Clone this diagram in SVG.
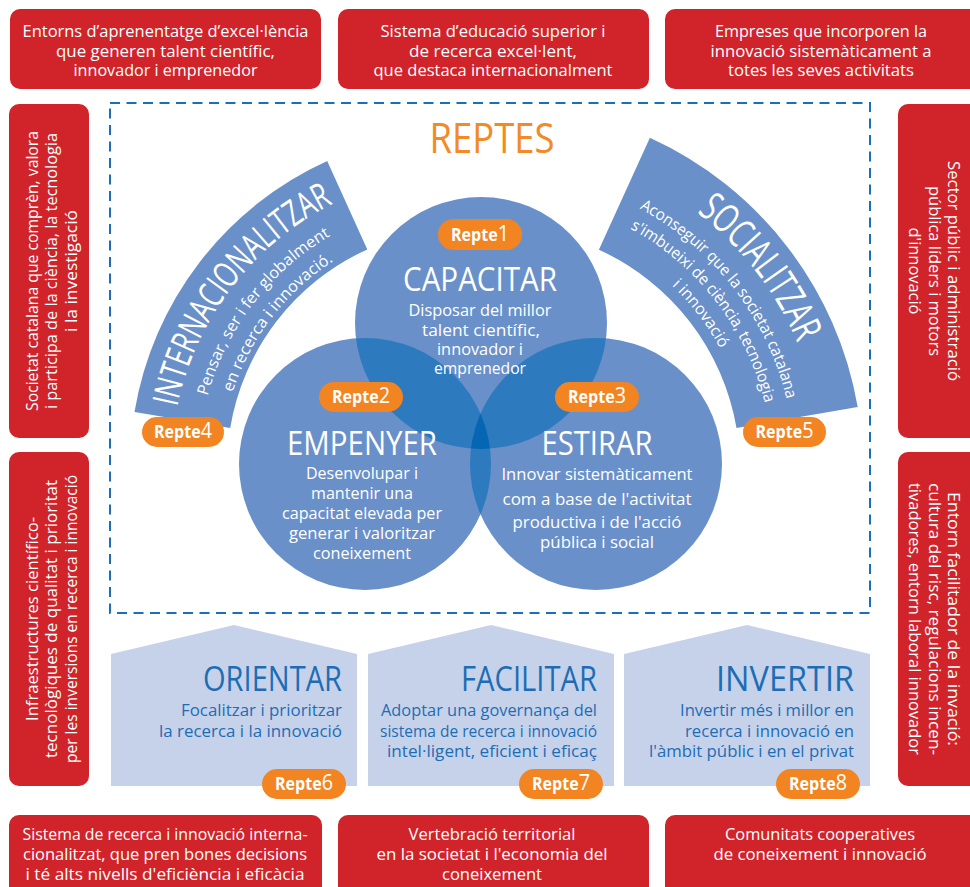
<svg xmlns="http://www.w3.org/2000/svg" width="970" height="887" viewBox="0 0 970 887">
<defs>
<style>
.red{fill:#d1232a}
.wt{fill:#fff;font-family:"Open Sans","Liberation Sans",sans-serif;font-size:16.5px}
.sd{fill:#fff;font-family:"Open Sans","Liberation Sans",sans-serif;font-size:17px}
.ct{fill:#fff;font-family:"Open Sans","Liberation Sans",sans-serif;font-size:32px}
.hs{fill:#c6d2ea}
.ht{fill:#1d6db5;font-family:"Open Sans","Liberation Sans",sans-serif;font-size:34px}
.hb{fill:#1d6db5;font-family:"Open Sans","Liberation Sans",sans-serif;font-size:16.5px}
.band{fill:#6a90c9}
.at{fill:#fff;font-family:"Open Sans","Liberation Sans",sans-serif;font-size:36px}
.as{fill:#fff;font-family:"Open Sans","Liberation Sans",sans-serif;font-size:16px}
.badge{fill:#f28522}
.bt{fill:#fff;font-family:"Open Sans","Liberation Sans",sans-serif;font-size:17px;font-weight:700}
.bn{font-size:21px;font-weight:400}
.c1{fill:#6a90c9}
.c2{fill:#2e7abf}
.c3{fill:#0567b3}
</style>
<clipPath id="k1"><circle cx="481" cy="323" r="126"/></clipPath>
<clipPath id="k2"><circle cx="365" cy="464" r="126"/></clipPath>
<path id="pL0" d="M 175.0 418.8 A 295 295 0 0 1 344.1 198.3"/>
<path id="pL1" d="M 201.6 423.2 A 268 268 0 0 1 355.3 222.9"/>
<path id="pL2" d="M 224.3 427.0 A 245 245 0 0 1 364.8 243.9"/>
<path id="pR0" d="M 633.4 174.2 A 324 324 0 0 1 818.3 413.9"/>
<path id="pR1" d="M 621.7 199.6 A 296 296 0 0 1 790.7 418.6"/>
<path id="pR2" d="M 612.6 219.7 A 274 274 0 0 1 769.0 422.4"/>
<path id="pR3" d="M 603.5 239.7 A 252 252 0 0 1 747.3 426.1"/>
</defs>
<rect width="970" height="887" fill="#fff"/>

<g id="top-box-1">
<rect class="red" x="10" y="9" width="311" height="80" rx="10"/>
<text class="wt" x="165.5" y="37" text-anchor="middle" textLength="286" lengthAdjust="spacingAndGlyphs">Entorns d’aprenentatge d’excel·lència</text>
<text class="wt" x="165.5" y="56.5" text-anchor="middle" textLength="219" lengthAdjust="spacingAndGlyphs">que generen talent científic,</text>
<text class="wt" x="165.5" y="76" text-anchor="middle" textLength="184" lengthAdjust="spacingAndGlyphs">innovador i emprenedor</text>
</g>
<g id="top-box-2">
<rect class="red" x="338" y="9" width="311" height="80" rx="10"/>
<text class="wt" x="493" y="37" text-anchor="middle" textLength="225" lengthAdjust="spacingAndGlyphs">Sistema d’educació superior i</text>
<text class="wt" x="493" y="56.5" text-anchor="middle" textLength="168" lengthAdjust="spacingAndGlyphs">de recerca excel·lent,</text>
<text class="wt" x="493" y="76" text-anchor="middle" textLength="239" lengthAdjust="spacingAndGlyphs">que destaca internacionalment</text>
</g>
<g id="top-box-3">
<rect class="red" x="665" y="9" width="320" height="80" rx="10"/>
<text class="wt" x="821" y="37" text-anchor="middle" textLength="212" lengthAdjust="spacingAndGlyphs">Empreses que incorporen la</text>
<text class="wt" x="821" y="56.5" text-anchor="middle" textLength="221" lengthAdjust="spacingAndGlyphs">innovació sistemàticament a</text>
<text class="wt" x="821" y="76" text-anchor="middle" textLength="186" lengthAdjust="spacingAndGlyphs">totes les seves activitats</text>
</g>

<g id="left-box-1">
<rect class="red" x="9" y="104" width="80" height="334" rx="10"/>
<text class="sd" transform="translate(37.5 271) rotate(-90)" text-anchor="middle" textLength="280" lengthAdjust="spacingAndGlyphs">Societat catalana que comprèn, valora</text>
<text class="sd" transform="translate(57 271) rotate(-90)" text-anchor="middle" textLength="276" lengthAdjust="spacingAndGlyphs">i participa de la ciència, la tecnologia</text>
<text class="sd" transform="translate(76.5 271) rotate(-90)" text-anchor="middle" textLength="122" lengthAdjust="spacingAndGlyphs">i la investigació</text>
</g>
<g id="left-box-2">
<rect class="red" x="9" y="452" width="80" height="334" rx="10"/>
<text class="sd" transform="translate(37.5 619) rotate(-90)" text-anchor="middle" textLength="204" lengthAdjust="spacingAndGlyphs">Infraestructures científico-</text>
<text class="sd" transform="translate(57 619) rotate(-90)" text-anchor="middle" textLength="278" lengthAdjust="spacingAndGlyphs">tecnològiques de qualitat i prioritat</text>
<text class="sd" transform="translate(76.5 619) rotate(-90)" text-anchor="middle" textLength="288" lengthAdjust="spacingAndGlyphs">per les inversions en recerca i innovació</text>
</g>
<g id="right-box-1">
<rect class="red" x="898" y="104" width="90" height="334" rx="10"/>
<text class="sd" transform="translate(948 271) rotate(90)" text-anchor="middle" textLength="220" lengthAdjust="spacingAndGlyphs">Sector públic i administració</text>
<text class="sd" transform="translate(928.5 271) rotate(90)" text-anchor="middle" textLength="170" lengthAdjust="spacingAndGlyphs">pública líders i motors</text>
<text class="sd" transform="translate(909 271) rotate(90)" text-anchor="middle" textLength="87" lengthAdjust="spacingAndGlyphs">d'innovació</text>
</g>
<g id="right-box-2">
<rect class="red" x="898" y="452" width="90" height="334" rx="10"/>
<text class="sd" transform="translate(948 619) rotate(90)" text-anchor="middle" textLength="254" lengthAdjust="spacingAndGlyphs">Entorn facilitador de la invació:</text>
<text class="sd" transform="translate(928.5 619) rotate(90)" text-anchor="middle" textLength="272" lengthAdjust="spacingAndGlyphs">cultura del risc, regulacions incen-</text>
<text class="sd" transform="translate(909 619) rotate(90)" text-anchor="middle" textLength="272" lengthAdjust="spacingAndGlyphs">tivadores, entorn laboral innovador</text>
</g>

<g id="bottom-box-1">
<rect class="red" x="9" y="815" width="313" height="90" rx="10"/>
<text class="wt" x="165" y="840" text-anchor="middle" textLength="285" lengthAdjust="spacingAndGlyphs">Sistema de recerca i innovació interna-</text>
<text class="wt" x="165" y="860" text-anchor="middle" textLength="284" lengthAdjust="spacingAndGlyphs">cionalitzat, que pren bones decisions</text>
<text class="wt" x="165" y="879.5" text-anchor="middle" textLength="279" lengthAdjust="spacingAndGlyphs">i té alts nivells d'eficiència i eficàcia</text>
</g>
<g id="bottom-box-2">
<rect class="red" x="338" y="815" width="311" height="90" rx="10"/>
<text class="wt" x="492" y="840" text-anchor="middle" textLength="167" lengthAdjust="spacingAndGlyphs">Vertebració territorial</text>
<text class="wt" x="492" y="860" text-anchor="middle" textLength="231" lengthAdjust="spacingAndGlyphs">en la societat i l'economia del</text>
<text class="wt" x="492" y="879.5" text-anchor="middle" textLength="100" lengthAdjust="spacingAndGlyphs">coneixement</text>
</g>
<g id="bottom-box-3">
<rect class="red" x="665" y="815" width="320" height="90" rx="10"/>
<text class="wt" x="820" y="840" text-anchor="middle" textLength="190" lengthAdjust="spacingAndGlyphs">Comunitats cooperatives</text>
<text class="wt" x="820" y="860" text-anchor="middle" textLength="213" lengthAdjust="spacingAndGlyphs">de coneixement i innovació</text>
</g>

<g id="reptes-frame">
<rect x="110" y="103" width="760" height="510" fill="none" stroke="#1a6fb8" stroke-width="2" stroke-dasharray="10 6.5"/>
<text x="492" y="153" text-anchor="middle" fill="#f28a26" font-family="Open Sans, Liberation Sans, sans-serif" font-size="42" textLength="125" lengthAdjust="spacingAndGlyphs">REPTES</text>
</g>

<g id="orientar">
<polygon class="hs" points="111,654 234,625 357,654 357,786 111,786"/>
<text class="ht" x="342" y="691" text-anchor="end" textLength="139" lengthAdjust="spacingAndGlyphs">ORIENTAR</text>
<text class="hb" x="342" y="716" text-anchor="end" textLength="161" lengthAdjust="spacingAndGlyphs">Focalitzar i prioritzar</text>
<text class="hb" x="342" y="736.5" text-anchor="end" textLength="183" lengthAdjust="spacingAndGlyphs">la recerca i la innovació</text>
</g>
<g id="facilitar">
<polygon class="hs" points="368,654 491,625 614,654 614,786 368,786"/>
<text class="ht" x="597" y="691" text-anchor="end" textLength="136" lengthAdjust="spacingAndGlyphs">FACILITAR</text>
<text class="hb" x="597" y="716" text-anchor="end" textLength="216" lengthAdjust="spacingAndGlyphs">Adoptar una governança del</text>
<text class="hb" x="597" y="736.5" text-anchor="end" textLength="217" lengthAdjust="spacingAndGlyphs">sistema de recerca i innovació</text>
<text class="hb" x="597" y="757" text-anchor="end" textLength="210" lengthAdjust="spacingAndGlyphs">intel·ligent, eficient i eficaç</text>
</g>
<g id="invertir">
<polygon class="hs" points="624,654 747,625 870,654 870,786 624,786"/>
<text class="ht" x="854" y="691" text-anchor="end" textLength="138" lengthAdjust="spacingAndGlyphs">INVERTIR</text>
<text class="hb" x="854" y="716" text-anchor="end" textLength="174" lengthAdjust="spacingAndGlyphs">Invertir més i millor en</text>
<text class="hb" x="854" y="736.5" text-anchor="end" textLength="169" lengthAdjust="spacingAndGlyphs">recerca i innovació en</text>
<text class="hb" x="854" y="757" text-anchor="end" textLength="205" lengthAdjust="spacingAndGlyphs">l'àmbit públic i en el privat</text>
</g>

<g id="internacionalitzar">
<path class="band" d="M 134.5 412.1 A 336 336 0 0 1 327.2 161.0 L 367.3 249.4 A 239 239 0 0 0 230.2 428.0 Z"/>
<text class="at"><textPath href="#pL0" startOffset="50%" text-anchor="middle" textLength="265" lengthAdjust="spacingAndGlyphs">INTERNACIONALITZAR</textPath></text>
<text class="as"><textPath href="#pL1" startOffset="50%" text-anchor="middle" textLength="207" lengthAdjust="spacingAndGlyphs">Pensar, ser i fer globalment</textPath></text>
<text class="as"><textPath href="#pL2" startOffset="50%" text-anchor="middle" textLength="169" lengthAdjust="spacingAndGlyphs">en recerca i innovació.</textPath></text>
</g>
<g id="socialitzar">
<path class="band" d="M 649.9 137.8 A 364 364 0 0 1 857.7 407.0 L 736.5 428.0 A 241 241 0 0 0 598.9 249.7 Z"/>
<text class="at" style="font-size:40px"><textPath href="#pR0" startOffset="50%" text-anchor="middle" textLength="167" lengthAdjust="spacingAndGlyphs">SOCIALITZAR</textPath></text>
<text class="as"><textPath href="#pR1" startOffset="50%" text-anchor="middle" textLength="248" lengthAdjust="spacingAndGlyphs">Aconseguir que la societat catalana</textPath></text>
<text class="as"><textPath href="#pR2" startOffset="50%" text-anchor="middle" textLength="227" lengthAdjust="spacingAndGlyphs">s'imbueixi de ciència, tecnologia</textPath></text>
<text class="as"><textPath href="#pR3" startOffset="50%" text-anchor="middle" textLength="80" lengthAdjust="spacingAndGlyphs">i innovació</textPath></text>
</g>

<g id="venn-fills">
<circle class="c1" cx="481" cy="323" r="126"/>
<circle class="c1" cx="365" cy="464" r="126"/>
<circle class="c1" cx="596" cy="464" r="126"/>
<g clip-path="url(#k1)">
<circle class="c2" cx="365" cy="464" r="126"/>
<circle class="c2" cx="596" cy="464" r="126"/>
</g>
<g clip-path="url(#k2)">
<circle class="c2" cx="596" cy="464" r="126"/>
<g clip-path="url(#k1)"><circle class="c3" cx="596" cy="464" r="126"/></g>
</g>
</g>

<g id="capacitar">
<text class="ct" x="480" y="291" text-anchor="middle" textLength="154" lengthAdjust="spacingAndGlyphs">CAPACITAR</text>
<text class="wt" x="480" y="316" text-anchor="middle" textLength="143" lengthAdjust="spacingAndGlyphs">Disposar del millor</text>
<text class="wt" x="481" y="335.5" text-anchor="middle" textLength="118" lengthAdjust="spacingAndGlyphs">talent científic,</text>
<text class="wt" x="480" y="355" text-anchor="middle" textLength="86" lengthAdjust="spacingAndGlyphs">innovador i</text>
<text class="wt" x="480" y="374" text-anchor="middle" textLength="92" lengthAdjust="spacingAndGlyphs">emprenedor</text>
</g>
<g id="empenyer">
<text class="ct" x="362" y="455" text-anchor="middle" textLength="150" lengthAdjust="spacingAndGlyphs">EMPENYER</text>
<text class="wt" x="362" y="479" text-anchor="middle" textLength="112" lengthAdjust="spacingAndGlyphs">Desenvolupar i</text>
<text class="wt" x="362" y="499" text-anchor="middle" textLength="102" lengthAdjust="spacingAndGlyphs">mantenir una</text>
<text class="wt" x="362" y="519" text-anchor="middle" textLength="160" lengthAdjust="spacingAndGlyphs">capacitat elevada per</text>
<text class="wt" x="362" y="538.5" text-anchor="middle" textLength="146" lengthAdjust="spacingAndGlyphs">generar i valoritzar</text>
<text class="wt" x="362" y="558.5" text-anchor="middle" textLength="98" lengthAdjust="spacingAndGlyphs">coneixement</text>
</g>
<g id="estirar">
<text class="ct" x="597" y="455" text-anchor="middle" textLength="111" lengthAdjust="spacingAndGlyphs">ESTIRAR</text>
<text class="wt" x="597" y="480" text-anchor="middle" textLength="191" lengthAdjust="spacingAndGlyphs">Innovar sistemàticament</text>
<text class="wt" x="597" y="505" text-anchor="middle" textLength="189" lengthAdjust="spacingAndGlyphs">com a base de l'activitat</text>
<text class="wt" x="597" y="528" text-anchor="middle" textLength="169" lengthAdjust="spacingAndGlyphs">productiva i de l'acció</text>
<text class="wt" x="597" y="548" text-anchor="middle" textLength="114" lengthAdjust="spacingAndGlyphs">pública i social</text>
</g>

<g id="repte-1"><rect class="badge" x="438" y="219" width="84" height="31" rx="15.5"/><text class="bt" x="480" y="241" text-anchor="middle" textLength="58" lengthAdjust="spacingAndGlyphs">Repte<tspan class="bn">1</tspan></text></g>
<g id="repte-2"><rect class="badge" x="319" y="382" width="84" height="30" rx="15"/><text class="bt" x="361" y="403" text-anchor="middle" textLength="58" lengthAdjust="spacingAndGlyphs">Repte<tspan class="bn">2</tspan></text></g>
<g id="repte-3"><rect class="badge" x="555" y="382" width="84" height="30" rx="15"/><text class="bt" x="597" y="403" text-anchor="middle" textLength="58" lengthAdjust="spacingAndGlyphs">Repte<tspan class="bn">3</tspan></text></g>
<g id="repte-4"><rect class="badge" x="142" y="417" width="82" height="30" rx="15"/><text class="bt" x="183" y="438" text-anchor="middle" textLength="58" lengthAdjust="spacingAndGlyphs">Repte<tspan class="bn">4</tspan></text></g>
<g id="repte-5"><rect class="badge" x="743" y="417" width="83" height="30" rx="15"/><text class="bt" x="784.5" y="438" text-anchor="middle" textLength="58" lengthAdjust="spacingAndGlyphs">Repte<tspan class="bn">5</tspan></text></g>
<g id="repte-6"><rect class="badge" x="262" y="769" width="84" height="30" rx="15"/><text class="bt" x="304" y="790" text-anchor="middle" textLength="58" lengthAdjust="spacingAndGlyphs">Repte<tspan class="bn">6</tspan></text></g>
<g id="repte-7"><rect class="badge" x="519" y="769" width="84" height="30" rx="15"/><text class="bt" x="561" y="790" text-anchor="middle" textLength="58" lengthAdjust="spacingAndGlyphs">Repte<tspan class="bn">7</tspan></text></g>
<g id="repte-8"><rect class="badge" x="776" y="769" width="84" height="30" rx="15"/><text class="bt" x="818" y="790" text-anchor="middle" textLength="58" lengthAdjust="spacingAndGlyphs">Repte<tspan class="bn">8</tspan></text></g>

<g id="connectors"/>
</svg>
